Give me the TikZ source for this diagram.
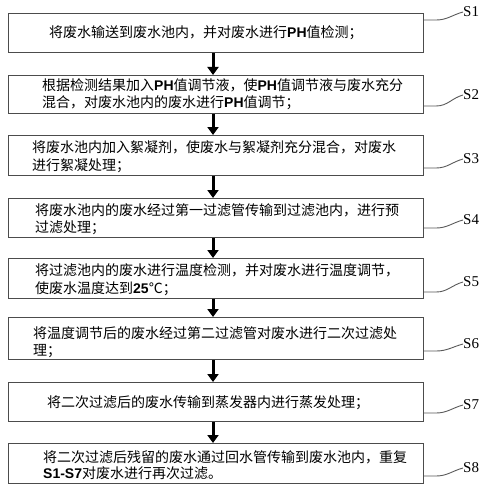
\documentclass[tikz,border=0pt]{standalone}
\usepackage{fontspec}
\setmainfont{Noto Sans CJK SC}
\newfontfamily\latb{Liberation Sans}
\newfontfamily\labserif{Liberation Serif}
\usetikzlibrary{arrows.meta}
\newcommand\ph{{\latb\bfseries PH}}
\newcommand\bs[1]{{\latb\bfseries #1}}
\begin{document}
\begin{tikzpicture}[x=1pt,y=-1pt,
  stepbox/.style={draw=black!70,line width=1.2pt,inner sep=0pt},
  txt/.style={anchor=base west,inner sep=0pt,font=\fontsize{14}{17}\selectfont},
  flow/.style={-{Triangle[width=11pt,length=8pt]},line width=3pt,black,shorten >=0pt},
  lead/.style={draw=black!65,line width=0.9pt},
  lab/.style={anchor=west,inner sep=0pt,font=\labserif\fontsize{15}{15}\selectfont}]
\useasboundingbox (0,0) rectangle (487,492);
% boxes
\foreach \n/\t/\b in {1/13/52,2/75/113,3/135/175,4/198/237,5/258/298,6/317/359,7/382/421,8/443/483}{
  \node[stepbox,minimum width=415pt,minimum height={\b-\t},anchor=north west] (b\n) at (8,\t) {};
}
% texts
\node[txt] (t1) at (49,38) {将废水输送到废水池内，并对废水进行\ph 值检测；};
\node[txt] (t2a) at (42,91) {根据检测结果加入\ph 值调节液，使\ph 值调节液与废水充分};
\node[txt] (t2b) at (42,108) {混合，对废水池内的废水进行\ph 值调节；};
\node[txt] (t3a) at (32,152) {将废水池内加入絮凝剂，使废水与絮凝剂充分混合，对废水};
\node[txt] (t3b) at (32,170) {进行絮凝处理；};
\node[txt] (t4a) at (35,215) {将废水池内的废水经过第一过滤管传输到过滤池内，进行预};
\node[txt] (t4b) at (35,232) {过滤处理；};
\node[txt] (t5a) at (35,275) {将过滤池内的废水进行温度检测，并对废水进行温度调节，};
\node[txt] (t5b) at (35,293) {使废水温度达到\bs{25}℃；};
\node[txt] (t6a) at (33,338) {将温度调节后的废水经过第二过滤管对废水进行二次过滤处};
\node[txt] (t6b) at (33,355) {理；};
\node[txt] (t7) at (47,407) {将二次过滤后的废水传输到蒸发器内进行蒸发处理；};
\node[txt] (t8a) at (43,462) {将二次过滤后残留的废水通过回水管传输到废水池内，重复};
\node[txt] (t8b) at (43,478) {\bs{S1-S7}对废水进行再次过滤。};
% arrows
\foreach \a/\c in {1/2,2/3,3/4,4/5,5/6,6/7,7/8}{
  \draw[flow] (b\a.south -| 213,0) -- (b\c.north -| 213,0);
}
% labels
\foreach \n/\ly/\py in {1/12/20,2/95/106,3/159/168,4/220/228,5/282/292,6/344/351,7/405/413,8/468/476}{
  \node[lab] (s\n) at (463,\ly) {S\n};
  \coordinate (p\n) at (b\n.east |- 0,\py);
  \draw[lead] (p\n) -- ++(12,0) to[out=0,in=195] (s\n.west);
}
\end{tikzpicture}
\end{document}
